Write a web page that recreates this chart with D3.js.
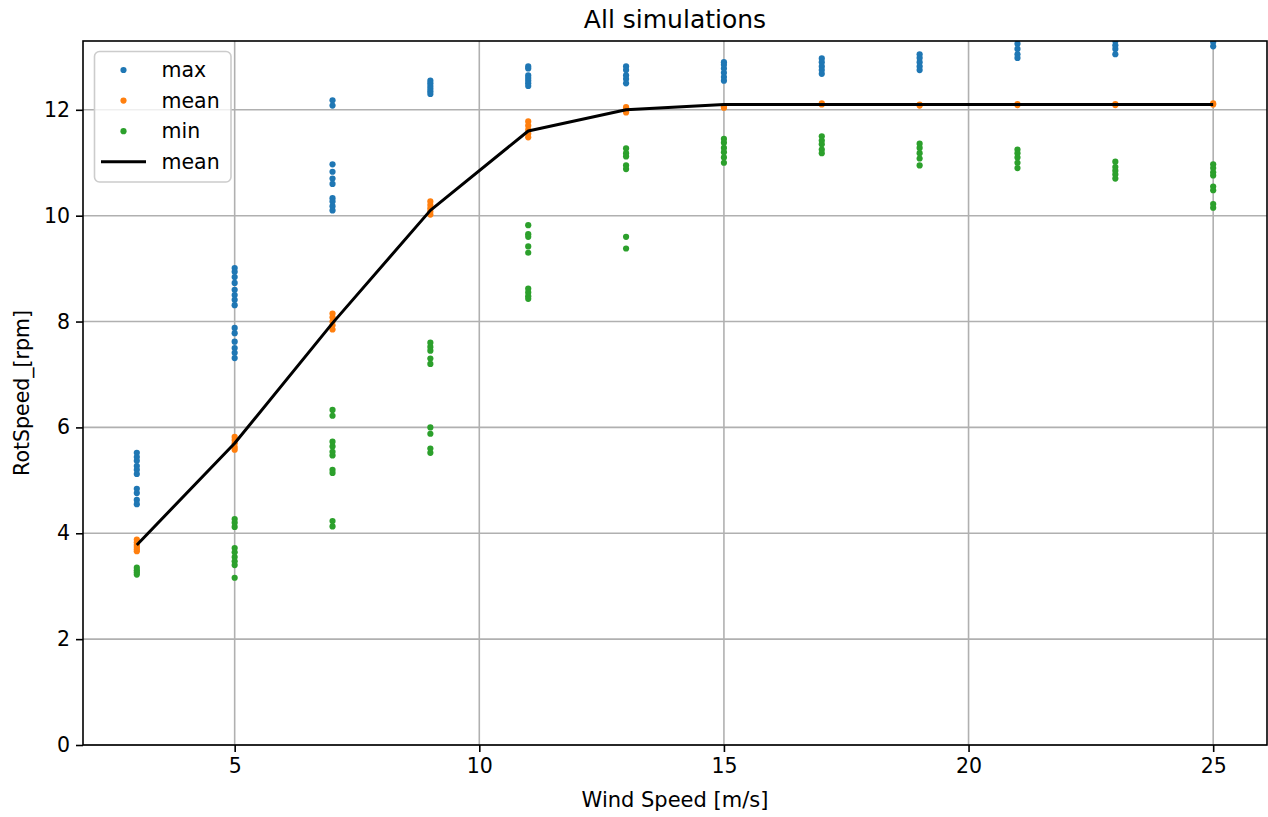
<!DOCTYPE html>
<html>
<head>
<meta charset="utf-8">
<script src="https://cdn.jsdelivr.net/npm/d3@7"></script>
<style>
  body { margin: 0; background: #fff; }
  text { font-family: "DejaVu Sans", sans-serif; }
</style>
</head>
<body>
<div id="chart"></div>
<script>
// Rotor speed vs wind speed, all simulations

const windSpeeds = [3, 5, 7, 9, 11, 13, 15, 17, 19, 21, 23, 25];

const maxValues = [
  [5.52, 5.44, 5.37, 5.27, 5.20, 5.12, 4.84, 4.76, 4.63, 4.55],
  [9.01, 8.94, 8.84, 8.73, 8.60, 8.50, 8.41, 8.31, 7.88, 7.78, 7.62, 7.50, 7.41, 7.31],
  [12.18, 12.08, 10.97, 10.83, 10.70, 10.60, 10.33, 10.27, 10.18, 10.10],
  [12.55, 12.50, 12.45, 12.40, 12.35, 12.30],
  [12.82, 12.78, 12.65, 12.60, 12.55, 12.50, 12.45],
  [12.82, 12.75, 12.65, 12.58, 12.50],
  [12.90, 12.85, 12.78, 12.70, 12.62, 12.55],
  [12.97, 12.90, 12.82, 12.75, 12.68],
  [13.05, 12.98, 12.90, 12.82, 12.75],
  [13.35, 13.25, 13.15, 13.05, 12.98],
  [13.30, 13.22, 13.15, 13.05],
  [13.35, 13.28, 13.20]
];

const meanValues = [
  [3.88, 3.83, 3.78, 3.74, 3.70, 3.66],
  [5.82, 5.76, 5.70, 5.63, 5.58],
  [8.15, 8.08, 8.00, 7.93, 7.85],
  [10.27, 10.20, 10.14, 10.08, 10.02],
  [11.78, 11.70, 11.62, 11.55, 11.48],
  [12.05, 12.00, 11.95],
  [12.06, 12.04],
  [12.12, 12.10],
  [12.10, 12.08],
  [12.11, 12.09],
  [12.11, 12.09],
  [12.12, 12.10]
];

const minValues = [
  [3.35, 3.30, 3.26, 3.22],
  [4.27, 4.20, 4.12, 3.72, 3.64, 3.55, 3.47, 3.40, 3.16],
  [6.33, 6.22, 5.73, 5.64, 5.54, 5.47, 5.20, 5.14, 4.23, 4.13],
  [7.60, 7.52, 7.45, 7.30, 7.20, 6.00, 5.88, 5.60, 5.52],
  [9.82, 9.65, 9.60, 9.42, 9.30, 8.62, 8.55, 8.48, 8.43],
  [11.27, 11.18, 11.12, 10.95, 10.88, 9.60, 9.38],
  [11.45, 11.38, 11.28, 11.20, 11.10, 11.00],
  [11.50, 11.42, 11.35, 11.25, 11.18],
  [11.36, 11.28, 11.18, 11.08, 10.95],
  [11.25, 11.18, 11.10, 11.00, 10.90],
  [11.02, 10.92, 10.85, 10.78, 10.70],
  [10.97, 10.90, 10.82, 10.76, 10.55, 10.48, 10.22, 10.15]
];

const meanLine = [3.78, 5.70, 7.97, 10.10, 11.60, 12.00, 12.10, 12.10, 12.10, 12.10, 12.10, 12.10];

const xTicks = [5, 10, 15, 20, 25];
const yTicks = [0, 2, 4, 6, 8, 10, 12];

const seriesNames = ["max", "mean", "min"];
const seriesColors = ["#1f77b4", "#ff7f0e", "#2ca02c"];

function main() {
  const width = 1268, height = 817;
  const margin = { top: 41, right: 1, bottom: 72, left: 83 };
  const innerWidth = width - margin.left - margin.right;
  const innerHeight = height - margin.top - margin.bottom;
  const fontSize = 20.5;

  const svg = d3.select("#chart").append("svg")
    .attr("width", width).attr("height", height);

  const g = svg.append("g").attr("transform", `translate(${margin.left},${margin.top})`);

  const x = d3.scaleLinear().domain([1.9, 26.1]).range([0, innerWidth]);
  const y = d3.scaleLinear().domain([0, 13.3]).range([innerHeight, 0]);

  svg.append("defs").append("clipPath").attr("id", "clip")
    .append("rect").attr("width", innerWidth).attr("height", innerHeight);

  // grid
  g.append("g").selectAll("line").data(xTicks).join("line")
    .attr("x1", d => x(d)).attr("x2", d => x(d))
    .attr("y1", 0).attr("y2", innerHeight)
    .attr("stroke", "#b0b0b0").attr("stroke-width", 1.6);
  g.append("g").selectAll("line").data(yTicks).join("line")
    .attr("y1", d => y(d)).attr("y2", d => y(d))
    .attr("x1", 0).attr("x2", innerWidth)
    .attr("stroke", "#b0b0b0").attr("stroke-width", 1.6);

  // axes
  const xAxis = g.append("g").attr("transform", `translate(0,${innerHeight})`)
    .call(d3.axisBottom(x).tickValues(xTicks).tickSize(7).tickPadding(6).tickFormat(d3.format("d")));
  const yAxis = g.append("g")
    .call(d3.axisLeft(y).tickValues(yTicks).tickSize(7).tickPadding(6).tickFormat(d3.format("d")));
  [xAxis, yAxis].forEach(a => {
    a.attr("font-size", null).attr("font-family", null);
    a.select(".domain").remove();
    a.selectAll("text").attr("font-size", fontSize).attr("fill", "#000");
    a.selectAll("line").attr("stroke", "#000").attr("stroke-width", 1.6);
  });

  // points
  const plot = g.append("g").attr("clip-path", "url(#clip)");
  [maxValues, meanValues, minValues].forEach((series, si) => {
    const pts = [];
    series.forEach((vals, i) => vals.forEach(v => pts.push([windSpeeds[i], v])));
    plot.append("g").selectAll("circle").data(pts).join("circle")
      .attr("cx", d => x(d[0])).attr("cy", d => y(d[1]))
      .attr("r", 3.1).attr("fill", seriesColors[si]);
  });

  // mean line
  const line = d3.line().x((d, i) => x(windSpeeds[i])).y(d => y(d));
  plot.append("path").datum(meanLine)
    .attr("d", line).attr("fill", "none")
    .attr("stroke", "#000").attr("stroke-width", 3).attr("stroke-linejoin", "round");

  // frame
  g.append("rect").attr("width", innerWidth).attr("height", innerHeight)
    .attr("fill", "none").attr("stroke", "#000").attr("stroke-width", 1.6);

  // title and labels
  svg.append("text").attr("x", margin.left + innerWidth / 2).attr("y", 28)
    .attr("text-anchor", "middle").attr("font-size", 25).text("All simulations");
  svg.append("text").attr("x", margin.left + innerWidth / 2).attr("y", 807)
    .attr("text-anchor", "middle").attr("font-size", 21).text("Wind Speed [m/s]");
  svg.append("text").attr("transform", `translate(29,${margin.top + innerHeight / 2}) rotate(-90)`)
    .attr("text-anchor", "middle").attr("font-size", fontSize).text("RotSpeed_[rpm]");

  // legend
  const lg = g.append("g").attr("transform", "translate(11.5,10.5)");
  lg.append("rect").attr("width", 136.5).attr("height", 130.5).attr("rx", 5)
    .attr("fill", "#fff").attr("fill-opacity", 0.8)
    .attr("stroke", "#cccccc").attr("stroke-width", 1.6);
  const entries = seriesNames.map((n, i) => ({ name: n, color: seriesColors[i], type: "dot" }))
    .concat([{ name: "mean", color: "#000", type: "line" }]);
  entries.forEach((e, i) => {
    const cy = 18.5 + i * 30.6;
    if (e.type === "dot") {
      lg.append("circle").attr("cx", 29).attr("cy", cy).attr("r", 3.1).attr("fill", e.color);
    } else {
      lg.append("line").attr("x1", 6.5).attr("x2", 51.5).attr("y1", cy).attr("y2", cy)
        .attr("stroke", e.color).attr("stroke-width", 3);
    }
    lg.append("text").attr("x", 67).attr("y", cy + 7).attr("font-size", fontSize).text(e.name);
  });
}

main();
</script>
</body>
</html>
